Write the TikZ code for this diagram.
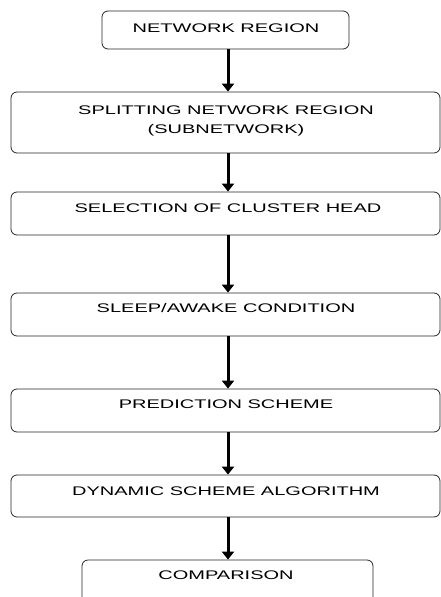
\documentclass[tikz,border=0pt]{standalone}
\usepackage{fontspec}
\setmainfont{Liberation Sans}[FakeStretch=1.6]
\usetikzlibrary{arrows.meta}
\begin{document}
\begin{tikzpicture}[x=1pt,y=-1pt,
  stepbox/.style={draw=black!85,line width=0.8pt,rounded corners=6pt,inner sep=0pt},
  steptext/.style={font=\fontsize{12.5}{19}\selectfont,inner sep=0pt,anchor=base,align=center},
  flow/.style={line width=3pt,-{Triangle[width=12pt,length=8pt]}}]
\useasboundingbox (0,0) rectangle (441,597);
% boxes (top-left, bottom-right)
\node[stepbox,minimum width=247pt,minimum height=38pt] (b1) at (225.5,30) {};
\node[stepbox,minimum width=429pt,minimum height=61pt] (b2) at (225.5,122.5) {};
\node[stepbox,minimum width=429pt,minimum height=43pt] (b3) at (225.5,213.5) {};
\node[stepbox,minimum width=429pt,minimum height=43pt] (b4) at (225.5,314.5) {};
\node[stepbox,minimum width=429pt,minimum height=43pt] (b5) at (225.5,410.5) {};
\node[stepbox,minimum width=429pt,minimum height=42pt] (b6) at (225.5,496) {};
\node[stepbox,minimum width=291pt,minimum height=60pt] (b7) at (227.5,590) {};
% texts
\node[steptext] (t1) at (226,32) {NETWORK REGION};
\node[steptext,anchor=center] (t2) at (226,121) {SPLITTING NETWORK REGION\\(SUBNETWORK)};
\node[steptext] (t3) at (228,212) {SELECTION OF CLUSTER HEAD};
\node[steptext] (t4) at (226,312) {SLEEP/AWAKE CONDITION};
\node[steptext] (t5) at (226,408) {PREDICTION SCHEME};
\node[steptext] (t6) at (226,495) {DYNAMIC SCHEME ALGORITHM};
\node[steptext] (t7) at (226,579) {COMPARISON};
% arrows
\draw[flow] (b1.south -| 228,0) -- (b2.north -| 228,0);
\draw[flow] (b2.south -| 228,0) -- (b3.north -| 228,0);
\draw[flow] (b3.south -| 228,0) -- (b4.north -| 228,0);
\draw[flow] (b4.south -| 228,0) -- (b5.north -| 228,0);
\draw[flow] (b5.south -| 228,0) -- (b6.north -| 228,0);
\draw[flow] (b6.south -| 228,0) -- (b7.north -| 228,0);
\end{tikzpicture}
\end{document}
